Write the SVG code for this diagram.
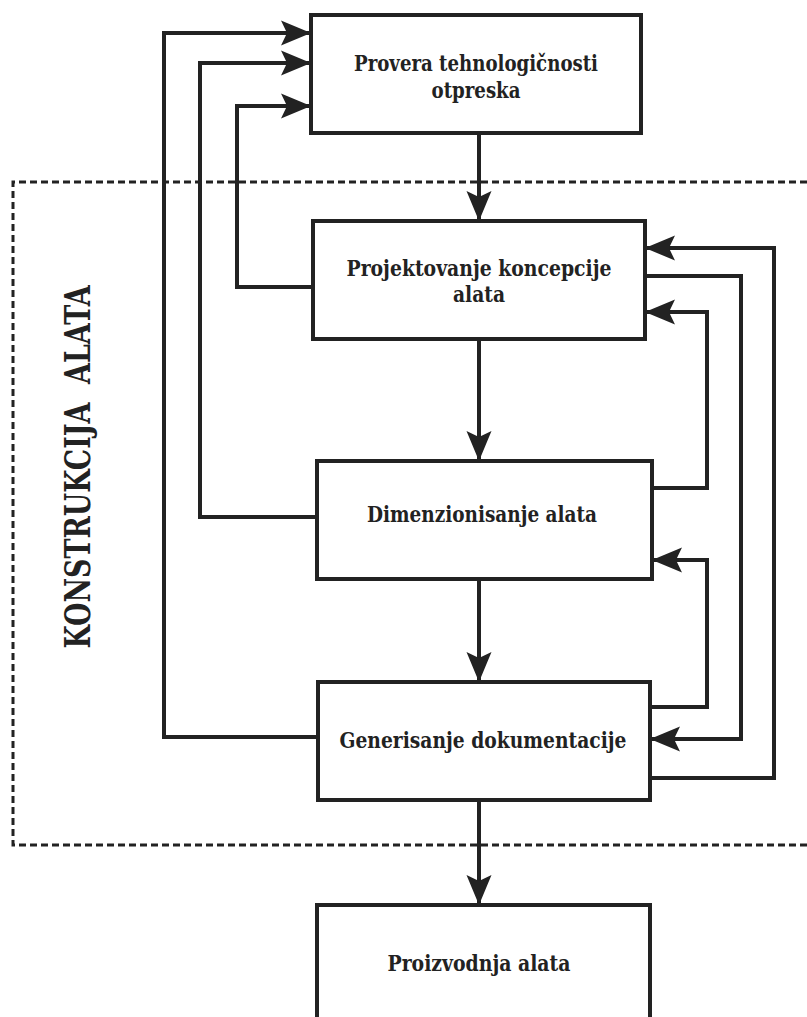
<svg xmlns="http://www.w3.org/2000/svg" width="807" height="1017" viewBox="0 0 807 1017">
  <style>
    .box { fill: #ffffff; stroke: #222222; stroke-width: 4; }
    .link { fill: none; stroke: #222222; stroke-width: 4; stroke-linejoin: miter; }
    .frame { fill: none; stroke: #222222; stroke-width: 3; stroke-dasharray: 7 4; }
    text { font-family: 'DejaVu Serif', 'Liberation Serif', serif; font-weight: bold; fill: #222222; text-anchor: middle; }
    .label { font-size: 23px; }
    .title { font-size: 35px; }
  </style>
  <defs>
    <marker id="arrow" markerUnits="userSpaceOnUse" markerWidth="32" markerHeight="28" viewBox="-31 -14 32 28" refX="0" refY="0" orient="auto">
      <path d="M0,0 L-30,-12.5 L-24,0 L-30,12.5 Z" fill="#222222"/>
    </marker>
  </defs>

  <rect width="807" height="1017" fill="#ffffff"/>

  <!-- dashed boundary of the tool design stage -->
  <g id="frame-konstrukcija">
    <path class="frame" d="M807,182 H13 V845 H807"/>
    <text class="title" transform="translate(90,467) rotate(-90)" textLength="363" lengthAdjust="spacingAndGlyphs" xml:space="preserve">KONSTRUKCIJA  ALATA</text>
  </g>

  <!-- connectors -->
  <g id="connectors">
    <!-- main flow -->
    <path class="link" d="M479,133 V221" marker-end="url(#arrow)"/>
    <path class="link" d="M479,339 V461" marker-end="url(#arrow)"/>
    <path class="link" d="M479,579 V682" marker-end="url(#arrow)"/>
    <path class="link" d="M479,800 V905" marker-end="url(#arrow)"/>
    <!-- feedback to the part check -->
    <path class="link" d="M318,737 H164 V33 H311" marker-end="url(#arrow)"/>
    <path class="link" d="M317,517 H200 V63 H311" marker-end="url(#arrow)"/>
    <path class="link" d="M313,287 H237 V106 H311" marker-end="url(#arrow)"/>
    <!-- right-hand loops -->
    <path class="link" d="M650,778 H774 V248 H645" marker-end="url(#arrow)"/>
    <path class="link" d="M645,276 H741 V739 H650" marker-end="url(#arrow)"/>
    <path class="link" d="M652,488 H707 V312 H645" marker-end="url(#arrow)"/>
    <path class="link" d="M650,707 H707 V560 H652" marker-end="url(#arrow)"/>
  </g>

  <!-- process steps -->
  <g id="node-provera">
    <rect class="box" x="311" y="15" width="330" height="118"/>
    <text class="label" x="476" y="71" textLength="244" lengthAdjust="spacingAndGlyphs">Provera tehnologičnosti</text>
    <text class="label" x="476" y="98" textLength="89" lengthAdjust="spacingAndGlyphs">otpreska</text>
  </g>
  <g id="node-projektovanje">
    <rect class="box" x="313" y="221" width="332" height="118"/>
    <text class="label" x="479" y="276" textLength="265" lengthAdjust="spacingAndGlyphs">Projektovanje koncepcije</text>
    <text class="label" x="479" y="302" textLength="52" lengthAdjust="spacingAndGlyphs">alata</text>
  </g>
  <g id="node-dimenzionisanje">
    <rect class="box" x="317" y="461" width="335" height="118"/>
    <text class="label" x="482" y="522" textLength="230" lengthAdjust="spacingAndGlyphs">Dimenzionisanje alata</text>
  </g>
  <g id="node-generisanje">
    <rect class="box" x="318" y="682" width="332" height="118"/>
    <text class="label" x="483" y="748" textLength="287" lengthAdjust="spacingAndGlyphs">Generisanje dokumentacije</text>
  </g>
  <g id="node-proizvodnja">
    <rect class="box" x="317" y="905" width="333" height="140"/>
    <text class="label" x="479" y="971" textLength="183" lengthAdjust="spacingAndGlyphs">Proizvodnja alata</text>
  </g>
</svg>
